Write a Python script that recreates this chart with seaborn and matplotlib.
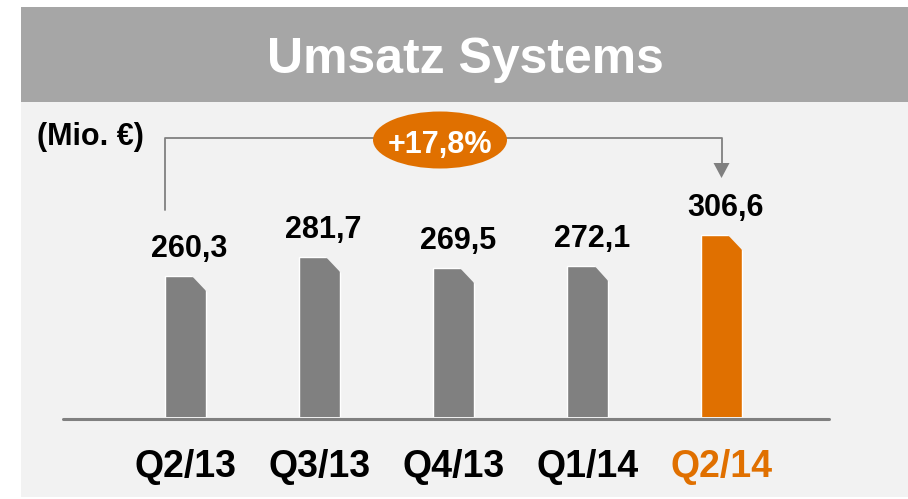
import matplotlib
matplotlib.use("Agg")
import matplotlib.pyplot as plt
import matplotlib.transforms as mtransforms
from matplotlib.patches import Rectangle, Ellipse, Polygon
from matplotlib.lines import Line2D
import seaborn as sns

# ---- data ----
categories = ["Q2/13", "Q3/13", "Q4/13", "Q1/14", "Q2/14"]
values = [260.3, 281.7, 269.5, 272.1, 306.6]
value_labels = ["260,3", "281,7", "269,5", "272,1", "306,6"]
growth_label = "+17,8%"
title = "Umsatz Systems"
unit_label = "(Mio. €)"

# ---- style ----
W, H, DPI = 908, 499, 100
GRAY = "#808080"
ORANGE = "#e07000"
PANEL = "#f2f2f2"
BAND = "#a6a6a6"
bar_colors = [GRAY, GRAY, GRAY, GRAY, ORANGE]

sns.set_theme(style="white")
plt.rcParams["font.family"] = ["Liberation Sans", "DejaVu Sans"]

fig = plt.figure(figsize=(W / DPI, H / DPI), dpi=DPI, facecolor="white")


def fx(px):
    return px / W


def fy(py):
    return 1 - py / H


# panel + title band
fig.add_artist(Rectangle((fx(21), fy(497)), fx(908) - fx(21), fy(7) - fy(497),
                         transform=fig.transFigure, facecolor=PANEL,
                         edgecolor="none", zorder=-2))
fig.add_artist(Rectangle((fx(21), fy(102)), fx(908) - fx(21), fy(7) - fy(102),
                         transform=fig.transFigure, facecolor=BAND,
                         edgecolor="none", zorder=-1))
fig.text(fx(465), fy(73), title, ha="center", va="baseline", color="white",
         fontsize=36, fontweight="bold")
fig.text(fx(37), fy(145), unit_label, ha="left", va="baseline", color="black",
         fontsize=22, fontweight="bold")

# axes
ax_left, ax_right, ax_bottom, ax_top = 63, 829, 417, 110
ax = fig.add_axes([fx(ax_left), fy(ax_bottom), fx(ax_right) - fx(ax_left),
                   fy(ax_top) - fy(ax_bottom)])
ax.patch.set_visible(False)

sns.barplot(x=categories, y=values, hue=categories, palette=bar_colors,
            legend=False, width=0.306, saturation=1, ax=ax)

x0, x1 = -0.914, 4.802
ymin = 100
ppu_y = 0.88
ymax = ymin + (ax_bottom - ax_top) / ppu_y
ax.set_xlim(x0, x1)
ax.set_ylim(ymin, ymax)
ppu_x = (ax_right - ax_left) / (x1 - x0)

for s in ax.spines.values():
    s.set_visible(False)
ax.set_yticks([])
ax.set_xlabel("")
ax.set_ylabel("")
ax.set_xticks(range(len(categories)))
ax.set_xticklabels(categories, fontsize=27, fontweight="bold", color="black")
ax.tick_params(axis="x", length=0, pad=23)
ax.get_xticklabels()[-1].set_color(ORANGE)

# baseline
ax.axhline(ymin - 1.5 / ppu_y, color=GRAY, lw=2.2, zorder=0.5, clip_on=False)

# bars: chamfered top-right corner + value labels
bars = ax.patches[:len(values)]
t = 0.15
for p, lbl in zip(bars, value_labels):
    xl = p.get_x()
    w = p.get_width()
    top = p.get_y() + p.get_height()
    xr = xl + w
    cw = w * 14 / 41
    ch = 15 / ppu_y
    tri = Polygon([(xr - cw - t * cw, top + t * ch),
                   (xr + t * cw, top + t * ch),
                   (xr + t * cw, top - ch - t * ch)],
                  closed=True, facecolor=PANEL, edgecolor="none", zorder=3)
    ax.add_patch(tri)
    ax.annotate(lbl, (xl + w / 2, top), xytext=(3, 19 * 72 / DPI),
                textcoords="offset points", ha="center", va="baseline",
                fontsize=22, fontweight="bold", color="black")

# growth bracket
trans = mtransforms.blended_transform_factory(ax.transData, fig.transFigure)
xb_left = bars[0].get_x()
xb_right = bars[-1].get_x() + bars[-1].get_width() / 2
fig.add_artist(Line2D([xb_left, xb_left, xb_right, xb_right],
                      [fy(210), fy(138), fy(138), fy(164)],
                      transform=trans, color=GRAY, lw=1.3, zorder=3))
hw = 8 / ppu_x
fig.add_artist(Polygon([(xb_right - hw, fy(163)), (xb_right + hw, fy(163)),
                        (xb_right, fy(178))], closed=True, transform=trans,
                       facecolor=GRAY, edgecolor="none", zorder=3))
fig.add_artist(Ellipse((fx(440), fy(140)), fx(134), 57 / H,
                       transform=fig.transFigure, facecolor=ORANGE,
                       edgecolor="none", zorder=4))
fig.text(fx(440), fy(153), growth_label, ha="center", va="baseline",
         color="white", fontsize=22, fontweight="bold", zorder=5)

fig.savefig("out.png", dpi=DPI, facecolor="white")
